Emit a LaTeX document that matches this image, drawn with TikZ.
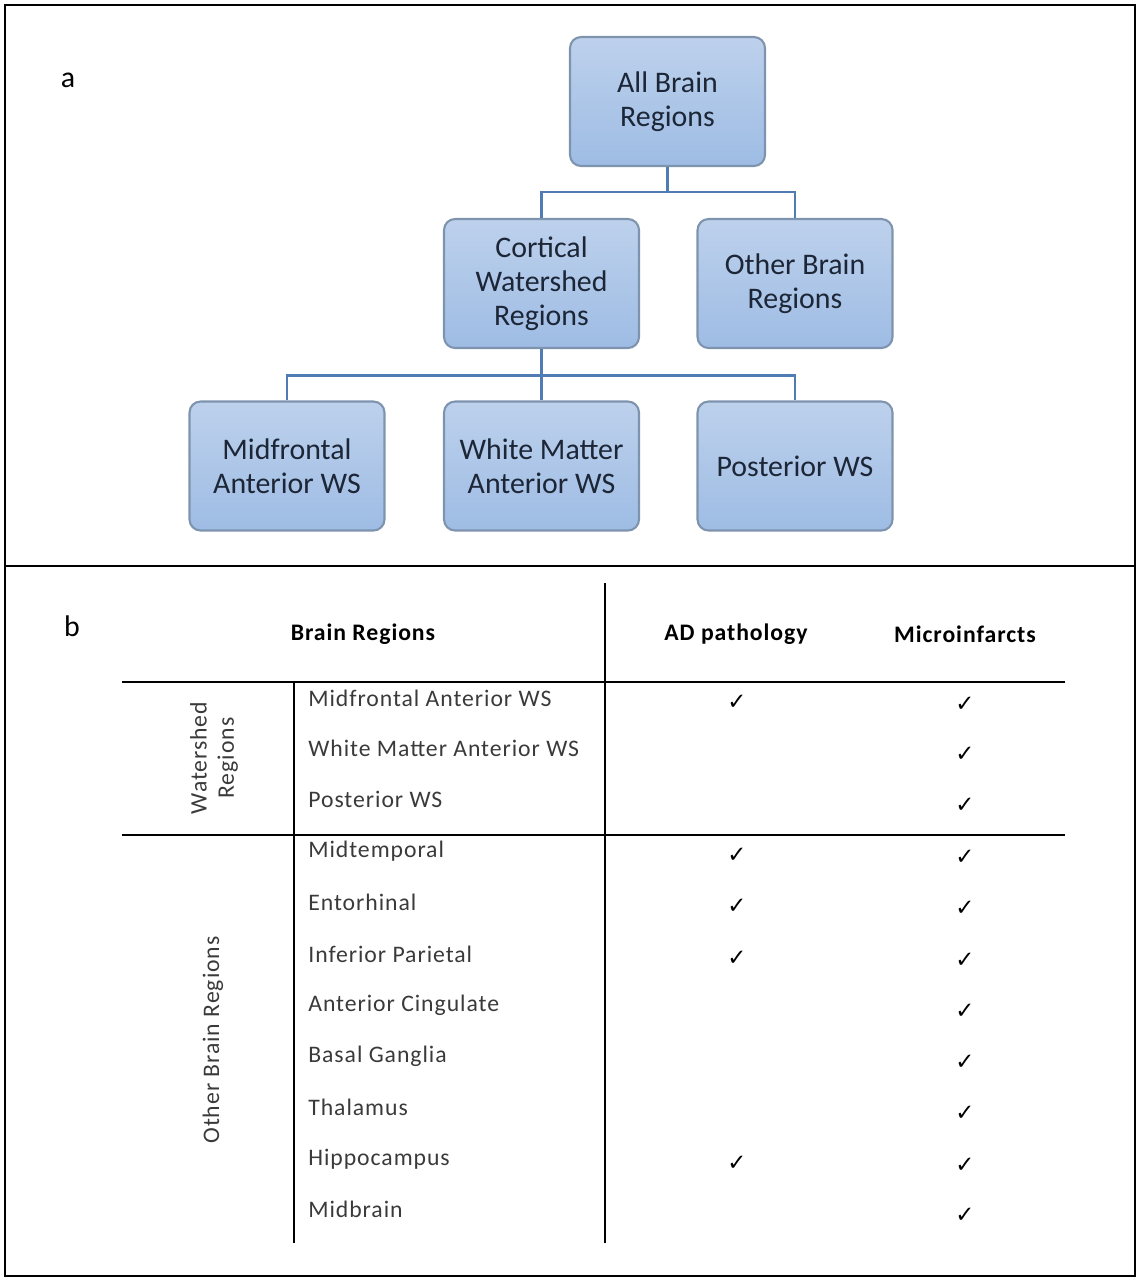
\documentclass[tikz,border=0pt]{standalone}
\usepackage{fontspec}
\setmainfont{Carlito}
\newfontfamily\tabfont[LetterSpace=4]{Carlito}
\newfontfamily\symfont{DejaVu Sans}
\definecolor{boxtop}{HTML}{BDD1EC}
\definecolor{boxbot}{HTML}{9EBCE4}
\definecolor{boxline}{HTML}{7E94AE}
\definecolor{connline}{HTML}{4F7DB3}
\definecolor{boxtext}{HTML}{1C2636}
\definecolor{tabtext}{HTML}{3A3A3A}
\begin{document}
\begin{tikzpicture}[x=0.02cm,y=-0.02cm,
  bbox/.style={draw=boxline, line width=1.2pt, rounded corners=0.22cm,
    top color=boxtop, bottom color=boxbot, minimum width=3.9cm, minimum height=2.58cm,
    align=center, text=boxtext, font=\fontsize{17}{19.4}\selectfont, inner sep=0pt},
  conn/.style={draw=connline, line width=1.3pt},
  tline/.style={draw=black, line width=1.1pt},
  row/.style={anchor=west, text=tabtext, font=\tabfont\fontsize{13.5}{16}\selectfont, inner sep=0pt},
  hdr/.style={text=black, font=\tabfont\bfseries\fontsize{13.5}{16}\selectfont, inner sep=0pt},
  chk/.style={text=black, font=\symfont\fontsize{13}{14}\selectfont, inner sep=0pt},
  lbl/.style={font=\fontsize{17}{19}\selectfont, inner sep=0pt},
  rot/.style={rotate=90, align=center, text=tabtext, font=\tabfont\fontsize{13.5}{15.5}\selectfont, inner sep=0pt}]
\useasboundingbox (0,0) rectangle (1138,1279);
\draw[line width=1.6pt] (5,5) rectangle (1135,1276);
\draw[line width=1.6pt] (5,566) -- (1135,566);
\node[lbl] (la) at (68,80) {a};
\node[lbl] (lb) at (72,626) {b};
% tree
\node[bbox] (all) at (667.5,101.5) {All Brain\\Regions};
\node[bbox] (cort) at (541.5,283.5) {Cortical\\Watershed\\Regions};
\node[bbox] (other) at (795,283.5) {Other Brain\\Regions};
\node[bbox] (mid) at (287,466) {Midfrontal\\Anterior WS};
\node[bbox] (wm) at (541.5,466) {White Matter\\Anterior WS};
\node[bbox] (post) at (795,466) {Posterior WS};
\draw[conn] (all.south) -- ++(0,26);
\draw[conn] (cort.north) -- ++(0,-26) -| (other.north);
\draw[conn] (cort.south) -- (wm.north);
\draw[conn] (mid.north) -- ++(0,-25) -| (post.north);
% table
\draw[tline] (605,583) -- (605,1243);
\draw[tline] (122,682) -- (1065,682);
\draw[tline] (122,835) -- (1065,835);
\draw[tline] (294,682) -- (294,1243);
\node[hdr] (h1) at (363,634) {Brain Regions};
\node[hdr] (h2) at (736,634) {AD pathology};
\node[hdr] (h3) at (965,634) {Microinfarcts};
\node[rot] (g1) at (214,758) {Watershed\\Regions};
\node[rot] (g2) at (213,1040) {Other Brain Regions};
\foreach \t/\y/\ad [count=\i] in {Midfrontal Anterior WS/698/1, White Matter Anterior WS/748/0, Posterior WS/799/0, Midtemporal/851/1, Entorhinal/902/1, Inferior Parietal/954/1, Anterior Cingulate/1005/0, Basal Ganglia/1056/0, Thalamus/1107/0, Hippocampus/1159/1, Midbrain/1209/0}{
  \node[row] (r\i) at (308,\y) {\t};
  \node[chk] (m\i) at (965,\y+6) {✓};
  \ifnum\ad=1 \node[chk] (a\i) at (737,\y+4) {✓};\fi
}
\end{tikzpicture}
\end{document}
